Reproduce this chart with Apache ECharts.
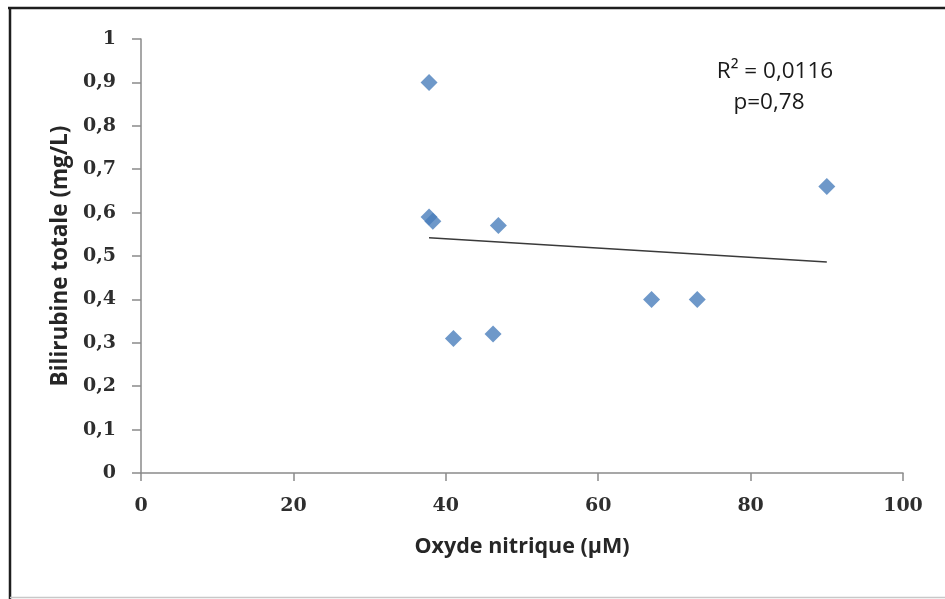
<!DOCTYPE html>
<html>
<head>
<meta charset="utf-8">
<script src="https://cdn.jsdelivr.net/npm/echarts@6/dist/echarts.min.js"></script>
<style>
html,body{margin:0;padding:0;background:#fff;}
#chart{width:945px;height:599px;}
</style>
</head>
<body>
<div id="chart"></div>
<script>
// Data
const oxydeNitrique = [37.8, 37.8, 38.3, 46.9, 41.0, 46.2, 67.0, 73.0, 90.0];
const bilirubine    = [0.90, 0.59, 0.58, 0.57, 0.31, 0.32, 0.40, 0.40, 0.66];
const xTicks = [0, 20, 40, 60, 80, 100];
const yTicks = [0, 0.1, 0.2, 0.3, 0.4, 0.5, 0.6, 0.7, 0.8, 0.9, 1];
const annotR2 = 'R\u00B2 = 0,0116';
const annotP = 'p=0,78';
const xTitle = 'Oxyde nitrique (\u00B5M)';
const yTitle = 'Bilirubine totale (mg/L)';

// linear regression (trend line) from the data
const n = oxydeNitrique.length;
const mx = oxydeNitrique.reduce((a,b)=>a+b,0)/n;
const my = bilirubine.reduce((a,b)=>a+b,0)/n;
let sxy = 0, sxx = 0;
for (let i=0;i<n;i++){ sxy += (oxydeNitrique[i]-mx)*(bilirubine[i]-my); sxx += (oxydeNitrique[i]-mx)**2; }
const slope = sxy/sxx, intercept = my - slope*mx;
const xMin = Math.min(...oxydeNitrique), xMax = Math.max(...oxydeNitrique);
const trend = [[xMin, intercept+slope*xMin],[xMax, intercept+slope*xMax]];

const chart = echarts.init(document.getElementById('chart'));
const tickFont = {fontFamily:'DejaVu Serif', fontWeight:'bold', fontSize:19, color:'#2e2e2e'};
chart.setOption({
  animation:false,
  backgroundColor:'#fff',
  grid:{left:141, right:42, top:39, bottom:126},
  xAxis:{
    type:'value', min:xTicks[0], max:xTicks[xTicks.length-1], interval:20,
    splitLine:{show:false},
    axisLine:{lineStyle:{color:'#8a8a8a', width:1.5}},
    axisTick:{show:true, length:8, lineStyle:{color:'#8a8a8a', width:1.5}},
    axisLabel:Object.assign({margin:24, formatter:v=>String(v)}, tickFont),
    name:xTitle, nameLocation:'middle', nameGap:63,
    nameTextStyle:{fontFamily:'Open Sans', fontWeight:'bold', fontSize:21.5, color:'#262626'}
  },
  yAxis:{
    type:'value', min:yTicks[0], max:yTicks[yTicks.length-1], interval:0.1,
    splitLine:{show:false},
    axisLine:{show:true, lineStyle:{color:'#8a8a8a', width:1.5}},
    axisTick:{show:true, length:9, lineStyle:{color:'#8a8a8a', width:1.5}},
    axisLabel:Object.assign({margin:25, formatter:v=>String(Math.round(v*10)/10).replace('.', ',')}, tickFont),
    name:yTitle, nameLocation:'middle', nameGap:67, nameRotate:90,
    nameTextStyle:{fontFamily:'Open Sans', fontWeight:'bold', fontSize:22.5, color:'#262626'}
  },
  series:[
    {type:'line', data:trend, symbol:'none', silent:true,
     lineStyle:{color:'#3a3a3a', width:1.5}, z:1},
    {type:'scatter', data:oxydeNitrique.map((x,i)=>[x, bilirubine[i]]),
     symbol:'diamond', symbolSize:[17,17],
     itemStyle:{color:'#4a7ebb'}, z:2}
  ],
  graphic:[
    {type:'text', x:775, y:72, style:{text:annotR2, fontFamily:'Open Sans', fontSize:22.5, fill:'#1a1a1a', align:'center', verticalAlign:'middle'}},
    {type:'text', x:769, y:103, style:{text:annotP, fontFamily:'Open Sans', fontSize:22.5, fill:'#1a1a1a', align:'center', verticalAlign:'middle'}},
    {type:'line', shape:{x1:8, y1:8, x2:945, y2:8}, style:{stroke:'#1e1e1e', lineWidth:2.5}},
    {type:'line', shape:{x1:10, y1:7, x2:10, y2:599}, style:{stroke:'#1e1e1e', lineWidth:2.5}},
    {type:'line', shape:{x1:10, y1:597.5, x2:945, y2:597.5}, style:{stroke:'#c8c8c8', lineWidth:1.5}}
  ]
});
</script>
</body>
</html>
